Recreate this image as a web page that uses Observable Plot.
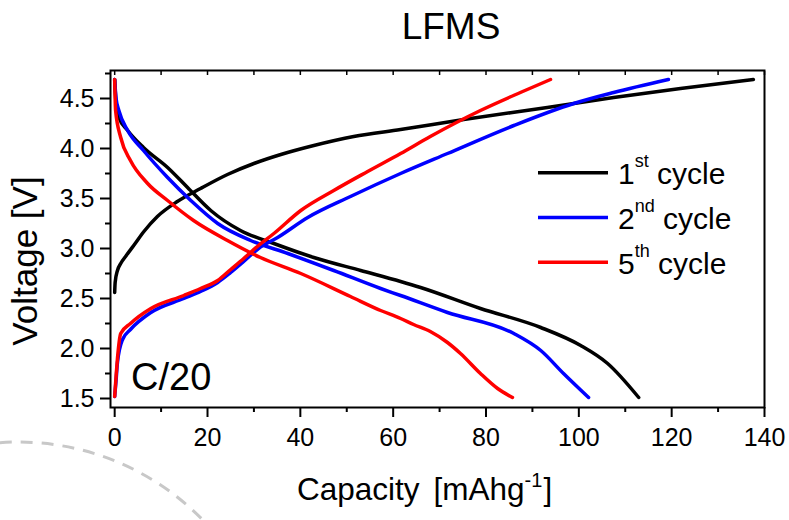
<!DOCTYPE html>
<html><head><meta charset="utf-8">
<script src="https://cdn.jsdelivr.net/npm/d3@7"></script>
<script src="https://cdn.jsdelivr.net/npm/@observablehq/plot@0.6"></script>
<style>
html,body{margin:0;padding:0;background:#fff;}
#chart{position:relative;width:789px;height:520px;}
svg text{font-family:"Liberation Sans",Arimo,Arial,Helvetica,sans-serif;}
</style></head><body><div id="chart"></div>
<script>
// ---- data (capacity mAh/g, voltage V) ----
const seriesNames = ["1st cycle", "2nd cycle", "5th cycle"];
const seriesColors = ["#000000", "#0000ff", "#ff0000"];

const cap1Charge = [0, 0.1, 0.6, 1.3, 2.5, 4.1, 6.3, 9.2, 13.5, 18.5, 24.3, 30, 35.8, 42.9, 51.5, 61.6, 75.2, 93.2, 107.5, 121.9, 137.6];
const v1Charge   = [2.56, 2.66, 2.78, 2.85, 2.93, 3.03, 3.17, 3.32, 3.47, 3.60, 3.74, 3.85, 3.94, 4.03, 4.12, 4.19, 4.29, 4.41, 4.51, 4.60, 4.69];
const cap1Discharge = [0, 0.3, 0.9, 2.8, 6.2, 11.4, 15.7, 20.7, 27.1, 34.3, 42.9, 53, 61.6, 65.9, 78.8, 91.8, 100.4, 106.2, 112.9];
const v1Discharge   = [4.69, 4.45, 4.31, 4.18, 4.01, 3.81, 3.61, 3.38, 3.18, 3.05, 2.91, 2.78, 2.67, 2.61, 2.40, 2.21, 2.03, 1.85, 1.51];

const cap2Charge = [0, 0.3, 0.6, 1.7, 3.4, 7.8, 14.9, 18.5, 22.2, 25, 27.8, 31, 35.1, 41.6, 50.8, 61.6, 71.7, 86, 98.9, 107.5, 119.3];
const v2Charge   = [1.52, 1.68, 1.86, 2.09, 2.19, 2.36, 2.50, 2.57, 2.66, 2.76, 2.87, 3.00, 3.11, 3.31, 3.52, 3.75, 3.95, 4.23, 4.45, 4.56, 4.69];
const cap2Discharge = [0, 0.3, 0.9, 2.8, 6.2, 11.4, 16.4, 22.2, 29.3, 37.3, 47.2, 57.3, 61.6, 71.7, 86, 91.8, 96.7, 102.1];
const v2Discharge   = [4.69, 4.50, 4.38, 4.18, 3.98, 3.71, 3.48, 3.25, 3.08, 2.95, 2.78, 2.60, 2.53, 2.36, 2.15, 1.98, 1.75, 1.51];

const cap5Charge = [0, 0.3, 0.6, 1.3, 3.4, 7.8, 14.9, 18.5, 22.2, 25, 27.8, 31, 34.3, 40.1, 47.2, 54.5, 61.6, 68, 78.8, 87.4, 93.9];
const v5Charge   = [1.52, 1.72, 1.90, 2.15, 2.25, 2.40, 2.53, 2.60, 2.68, 2.79, 2.90, 3.03, 3.15, 3.38, 3.58, 3.77, 3.95, 4.12, 4.38, 4.56, 4.69];
const cap5Discharge = [0, 0.2, 1.3, 3.4, 7.1, 11.4, 17, 24.3, 31.4, 40.1, 50.8, 57.3, 61.6, 64.4, 68, 71.7, 74.5, 78.8, 82.5, 85.7];
const v5Discharge   = [4.69, 4.38, 4.11, 3.88, 3.65, 3.48, 3.28, 3.08, 2.91, 2.75, 2.52, 2.38, 2.30, 2.24, 2.17, 2.06, 1.95, 1.75, 1.60, 1.51];

const xMajorTicks = [0, 20, 40, 60, 80, 100, 120, 140];
const xMinorTicks = [10, 30, 50, 70, 90, 110, 130];
const xTopTicks = [0, 10, 20, 30, 40, 50, 60, 70, 80, 90, 100, 110, 120, 130, 140];
const yMajorTicks = [1.5, 2.0, 2.5, 3.0, 3.5, 4.0, 4.5];
const yMinorTicks = [1.75, 2.25, 2.75, 3.25, 3.75, 4.25, 4.75];

// ---- build table ----
const curves = [
  {series: seriesNames[0], branch: "charge", cap: cap1Charge, v: v1Charge},
  {series: seriesNames[0], branch: "discharge", cap: cap1Discharge, v: v1Discharge},
  {series: seriesNames[1], branch: "charge", cap: cap2Charge, v: v2Charge},
  {series: seriesNames[1], branch: "discharge", cap: cap2Discharge, v: v2Discharge},
  {series: seriesNames[2], branch: "charge", cap: cap5Charge, v: v5Charge},
  {series: seriesNames[2], branch: "discharge", cap: cap5Discharge, v: v5Discharge}
];
const rows = curves.flatMap(c => c.cap.map((x, i) => ({series: c.series, key: c.series + "-" + c.branch, cap: x, v: c.v[i]})));

const font = '"Liberation Sans", Arimo, Arial, Helvetica, sans-serif';
const plot = Plot.plot({
  width: 789, height: 520,
  marginTop: 70, marginBottom: 113, marginLeft: 110, marginRight: 25,
  x: {domain: [-0.9, 140]},
  y: {domain: [1.41, 4.78]},
  color: {domain: seriesNames, range: seriesColors},
  style: {fontFamily: font, fontSize: "25px", color: "#000", background: "#fff", overflow: "visible"},
  marks: [
    Plot.axisX({ticks: xMajorTicks, tickSize: 10, tickPadding: 11, tickFormat: d => String(d), label: null, strokeWidth: 2, fontSize: 25}),
    Plot.axisX({ticks: xMinorTicks, tickSize: 5, tickFormat: () => "", label: null, strokeWidth: 2}),
    Plot.axisX({anchor: "top", ticks: xTopTicks, tickSize: -4, tickFormat: () => "", label: null, strokeWidth: 1.5}),
    Plot.axisY({ticks: yMajorTicks, tickSize: 10, tickPadding: 6, tickFormat: d => d.toFixed(1), label: null, strokeWidth: 2, fontSize: 25}),
    Plot.axisY({ticks: yMinorTicks, tickSize: 5, tickFormat: () => "", label: null, strokeWidth: 2}),
    Plot.line(rows, {x: "cap", y: "v", z: "key", stroke: "series", strokeWidth: 3.5, curve: "monotone-x"}),
    Plot.frame({stroke: "#000", strokeWidth: 2})
  ]
});
document.getElementById("chart").appendChild(plot);

// ---- decorations: title, axis titles, legend, annotation ----
const svg = d3.select(plot);
svg.insert("circle", ":first-child")
  .attr("cx", 18).attr("cy", 700).attr("r", 258)
  .attr("fill", "none").attr("stroke", "#c8c8c8").attr("stroke-width", 3).attr("stroke-dasharray", "12 9");

svg.append("text").attr("x", 451).attr("y", 39).attr("text-anchor", "middle")
  .style("font-size", "37px").attr("fill", "#000").text("LFMS");

const xl = svg.append("text").attr("x", 297).attr("y", 500).attr("text-anchor", "start")
  .style("font-size", "31.5px").attr("fill", "#000");
xl.append("tspan").text("Capacity");
xl.append("tspan").attr("dx", 14).text("[mAhg");
xl.append("tspan").attr("dy", -13).style("font-size", "20px").text("-1");
xl.append("tspan").attr("dy", 13).attr("dx", 1).text("]");

svg.append("text").attr("transform", "translate(37,261) rotate(-90)").attr("text-anchor", "middle")
  .style("font-size", "35px").attr("fill", "#000").text("Voltage [V]");

svg.append("text").attr("x", 131).attr("y", 390).attr("text-anchor", "start")
  .style("font-size", "38px").attr("fill", "#000").text("C/20");

const ordinals = [["1", "st"], ["2", "nd"], ["5", "th"]];
const lg = svg.append("g");
seriesNames.forEach((name, i) => {
  const y = 172.7 + i * 44.8;
  lg.append("line").attr("x1", 538).attr("x2", 608).attr("y1", y).attr("y2", y)
    .attr("stroke", seriesColors[i]).attr("stroke-width", 3.5);
  const t = lg.append("text").attr("x", 618).attr("y", y + 11.5).attr("text-anchor", "start")
    .style("font-size", "30px").attr("fill", "#000");
  t.append("tspan").text(ordinals[i][0]);
  t.append("tspan").attr("dy", -17).style("font-size", "18px").text(ordinals[i][1]);
  t.append("tspan").attr("dy", 17).text(" cycle");
});
</script></body></html>
